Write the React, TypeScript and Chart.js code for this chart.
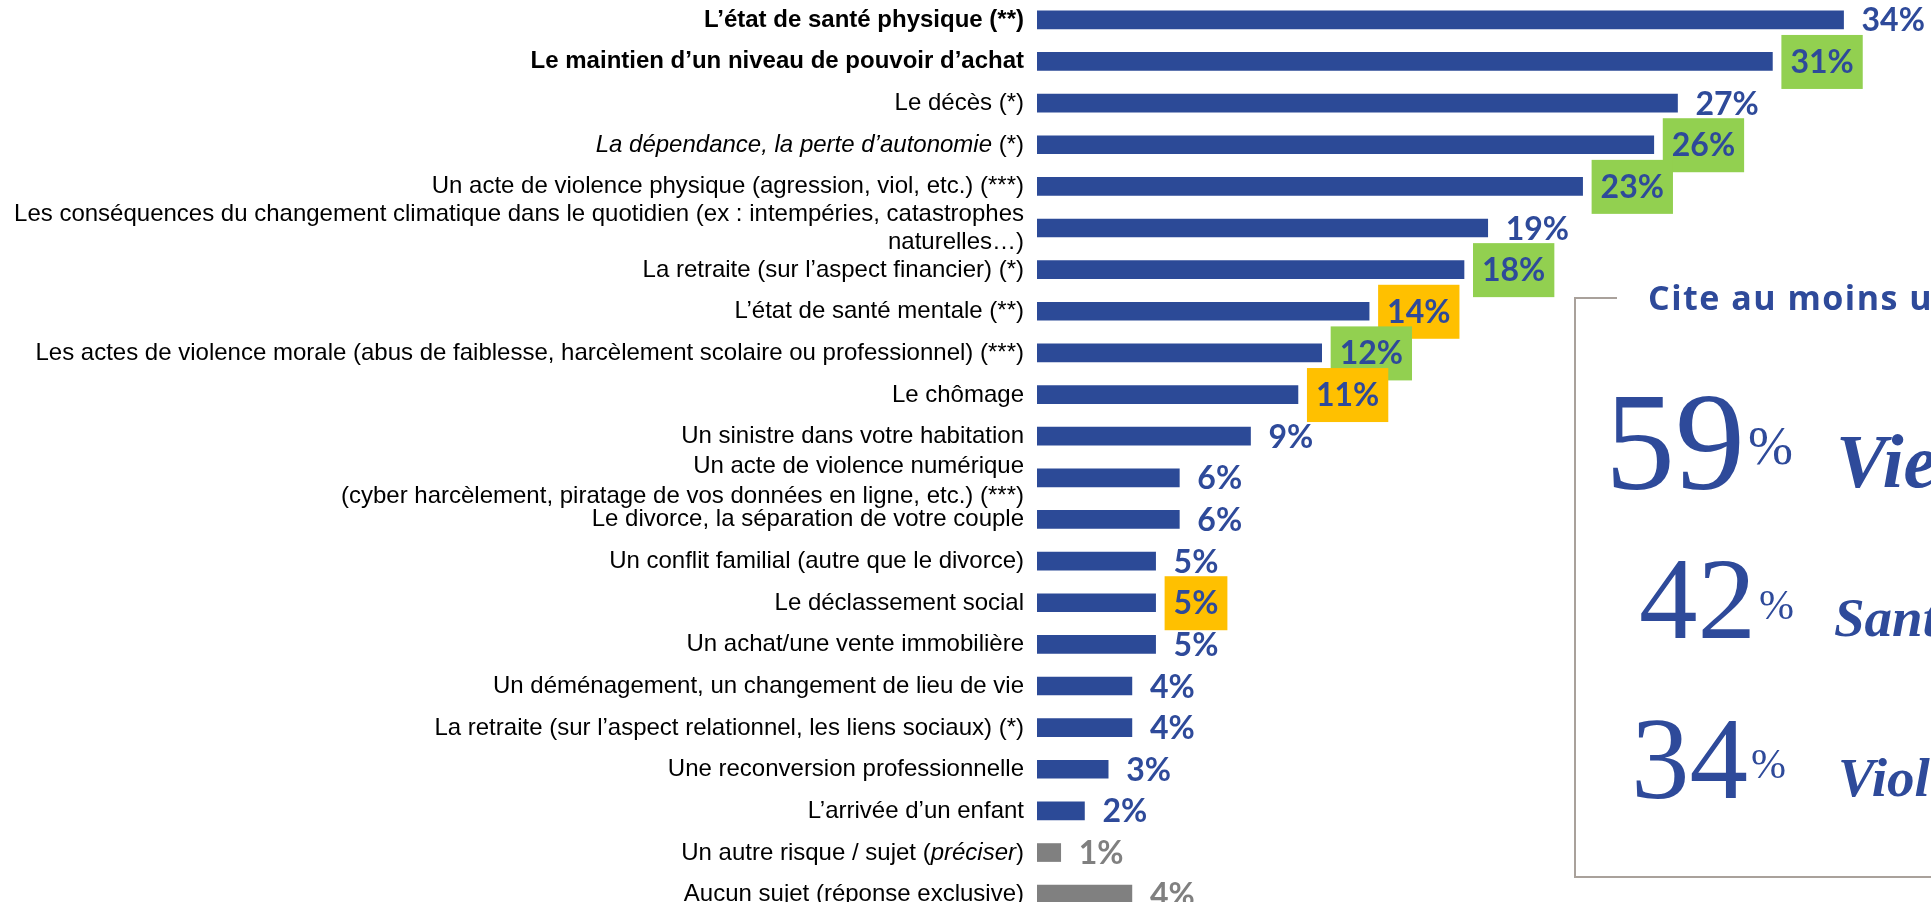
import React, { useEffect, useRef } from "react";
import { Chart, registerables } from "chart.js";

Chart.register(...registerables);

// ---------- DATA ----------
const categories: string[] = [
  "L’état de santé physique (**)",
  "Le maintien d’un niveau de pouvoir d’achat",
  "Le décès (*)",
  "La dépendance, la perte d’autonomie (*)",
  "Un acte de violence physique (agression, viol, etc.) (***)",
  "Les conséquences du changement climatique dans le quotidien (ex : intempéries, catastrophes\nnaturelles…)",
  "La retraite (sur l’aspect financier) (*)",
  "L’état de santé mentale (**)",
  "Les actes de violence morale (abus de faiblesse, harcèlement scolaire ou professionnel) (***)",
  "Le chômage",
  "Un sinistre dans votre habitation",
  "Un acte de violence numérique\n(cyber harcèlement, piratage de vos données en ligne, etc.) (***)",
  "Le divorce, la séparation de votre couple",
  "Un conflit familial (autre que le divorce)",
  "Le déclassement social",
  "Un achat/une vente immobilière",
  "Un déménagement, un changement de lieu de vie",
  "La retraite (sur l’aspect relationnel, les liens sociaux) (*)",
  "Une reconversion professionnelle",
  "L’arrivée d’un enfant",
  "Un autre risque / sujet (préciser)",
  "Aucun sujet (réponse exclusive)",
];

const values: number[] = [34, 31, 27, 26, 23, 19, 18, 14, 12, 11, 9, 6, 6, 5, 5, 5, 4, 4, 3, 2, 1, 4];

// highlight badge behind the value label: "green" | "orange" | null
const highlights: (string | null)[] = [
  null, "green", null, "green", "green", null, "green", "orange", "green", "orange",
  null, null, null, null, "orange", null, null, null, null, null, null, null,
];

const boldRows: number[] = [0, 1];
const neutralRows: number[] = [20, 21];
const italicParts: Record<number, string> = {
  3: "La dépendance, la perte d’autonomie",
  20: "préciser",
};

const summaryTitle = "Cite au moins un sujet lié à :";
const summaryValues: number[] = [59, 42, 34];
const summaryLabels: string[] = ["Vieillissement (*)", "Santé (**)", "Violences (***)"];

// ---------- STYLE ----------
const BAR_BLUE = "#2C4A97";
const TEXT_BLUE = "#2E4A9A";
const GRAY = "#808080";
const HL: Record<string, string> = { green: "#92D050", orange: "#FFC000" };
const LABEL_FONT = '"Liberation Sans", Arial, sans-serif';
const LABEL_SIZE = 24;
const VALUE_FONT = '700 32px Lato, "Open Sans", sans-serif';
const SERIF = '"Liberation Serif", "Times New Roman", serif';

const CANVAS_TOP = -1;

// per-row tweaks for two-line labels: [line spacing, vertical shift]
const multiLineLayout: Record<number, [number, number]> = {
  5: [28, 0],
  11: [29.5, 3],
};

function drawSegmentedRight(ctx: CanvasRenderingContext2D, line: string, row: number, xRight: number, y: number) {
  const bold = boldRows.includes(row);
  const base = `${bold ? "700 " : ""}${LABEL_SIZE}px ${LABEL_FONT}`;
  const ital = `italic ${bold ? "700 " : ""}${LABEL_SIZE}px ${LABEL_FONT}`;
  const part = italicParts[row];
  const segs: { t: string; f: string }[] = [];
  if (part && line.includes(part)) {
    const k = line.indexOf(part);
    if (k > 0) segs.push({ t: line.slice(0, k), f: base });
    segs.push({ t: part, f: ital });
    const rest = line.slice(k + part.length);
    if (rest) segs.push({ t: rest, f: base });
  } else {
    segs.push({ t: line, f: base });
  }
  let total = 0;
  for (const s of segs) {
    ctx.font = s.f;
    total += ctx.measureText(s.t).width;
  }
  let x = xRight - total;
  ctx.textAlign = "left";
  ctx.textBaseline = "alphabetic";
  ctx.fillStyle = "#000000";
  for (const s of segs) {
    ctx.font = s.f;
    ctx.fillText(s.t, x, y);
    x += ctx.measureText(s.t).width;
  }
}

const textPlugin = {
  id: "customText",
  afterDatasetsDraw(chart: any) {
    const ctx: CanvasRenderingContext2D = chart.ctx;
    const yScale = chart.scales.y;
    const meta = chart.getDatasetMeta(0);
    ctx.save();

    // category labels
    categories.forEach((cat, i) => {
      const yc = yScale.getPixelForValue(i);
      const lines = cat.split("\n");
      const [ls, shift] = multiLineLayout[i] || [28.5, 0];
      lines.forEach((ln, j) => {
        const y = yc + 7 + shift + (j - (lines.length - 1) / 2) * ls;
        drawSegmentedRight(ctx, ln, i, 1024, y);
      });
    });

    // value labels with badges
    meta.data.forEach((bar: any, i: number) => {
      const x = bar.x + 18;
      const y = bar.y;
      const txt = `${values[i]}%`;
      ctx.font = VALUE_FONT;
      const w = ctx.measureText(txt).width;
      const hl = highlights[i];
      if (hl) {
        ctx.fillStyle = HL[hl];
        ctx.fillRect(x - 9, y - 26.5, w + 18, 54);
      }
      ctx.fillStyle = neutralRows.includes(i) ? GRAY : TEXT_BLUE;
      ctx.textAlign = "left";
      ctx.textBaseline = "alphabetic";
      ctx.fillText(txt, x, y + 11.5);
    });

    // summary box (viewport coords -> canvas coords)
    const oy = -CANVAS_TOP;
    ctx.strokeStyle = "#A9A19B";
    ctx.lineWidth = 2;
    ctx.beginPath();
    ctx.moveTo(1617, 298 + oy);
    ctx.lineTo(1575, 298 + oy);
    ctx.lineTo(1575, 877 + oy);
    ctx.lineTo(1940, 877 + oy);
    ctx.stroke();

    ctx.fillStyle = TEXT_BLUE;
    ctx.textAlign = "left";
    ctx.textBaseline = "alphabetic";
    ctx.font = '700 34px "Open Sans", Lato, sans-serif';
    (ctx as any).letterSpacing = "1.5px";
    ctx.fillText(summaryTitle, 1648, 310 + oy);
    (ctx as any).letterSpacing = "0px";

    const rows = [
      { x: 1605, base: 489, size: 140, pct: 54, raise: 25, lx: 1836, lsize: 76 },
      { x: 1639, base: 638, size: 117, pct: 42, raise: 19, lx: 1834, lsize: 55 },
      { x: 1631, base: 798, size: 117, pct: 42, raise: 20, lx: 1838, lsize: 55 },
    ];
    rows.forEach((r, k) => {
      const num = String(summaryValues[k]);
      ctx.font = `400 ${r.size}px ${SERIF}`;
      ctx.fillText(num, r.x, r.base + oy);
      const nw = ctx.measureText(num).width;
      ctx.font = `400 ${r.pct}px ${SERIF}`;
      ctx.fillText("%", r.x + nw + 3, r.base - r.raise + oy);
      ctx.font = `italic 700 ${r.lsize}px ${SERIF}`;
      ctx.fillText(summaryLabels[k], r.lx, r.base - 2 + oy);
    });

    ctx.restore();
  },
};

export default function App() {
  const canvasRef = useRef<HTMLCanvasElement | null>(null);

  useEffect(() => {
    const canvas = canvasRef.current;
    if (!canvas) return;
    const chart = new Chart(canvas, {
      type: "bar",
      data: {
        labels: categories.map((c) => c.replace("\n", " ")),
        datasets: [
          {
            data: values,
            backgroundColor: values.map((_, i) => (neutralRows.includes(i) ? GRAY : BAR_BLUE)),
            barThickness: 18,
            borderWidth: 0,
          },
        ],
      },
      options: {
        indexAxis: "y",
        animation: false,
        responsive: false,
        maintainAspectRatio: false,
        devicePixelRatio: 1,
        layout: { padding: { left: 1037, right: 40, top: 0, bottom: 0 } },
        plugins: { legend: { display: false }, tooltip: { enabled: false } },
        scales: {
          x: { min: 0, max: 36, display: false },
          y: { display: false, offset: true },
        },
      },
      plugins: [textPlugin],
    });
    return () => chart.destroy();
  }, []);

  return (
    <div
      style={{
        position: "fixed",
        left: 0,
        top: 0,
        width: 1931,
        height: 902,
        overflow: "hidden",
        background: "#ffffff",
      }}
    >
      <canvas
        ref={canvasRef}
        width={1931}
        height={916}
        style={{ position: "absolute", left: 0, top: CANVAS_TOP, width: 1931, height: 916, display: "block" }}
      />
    </div>
  );
}
